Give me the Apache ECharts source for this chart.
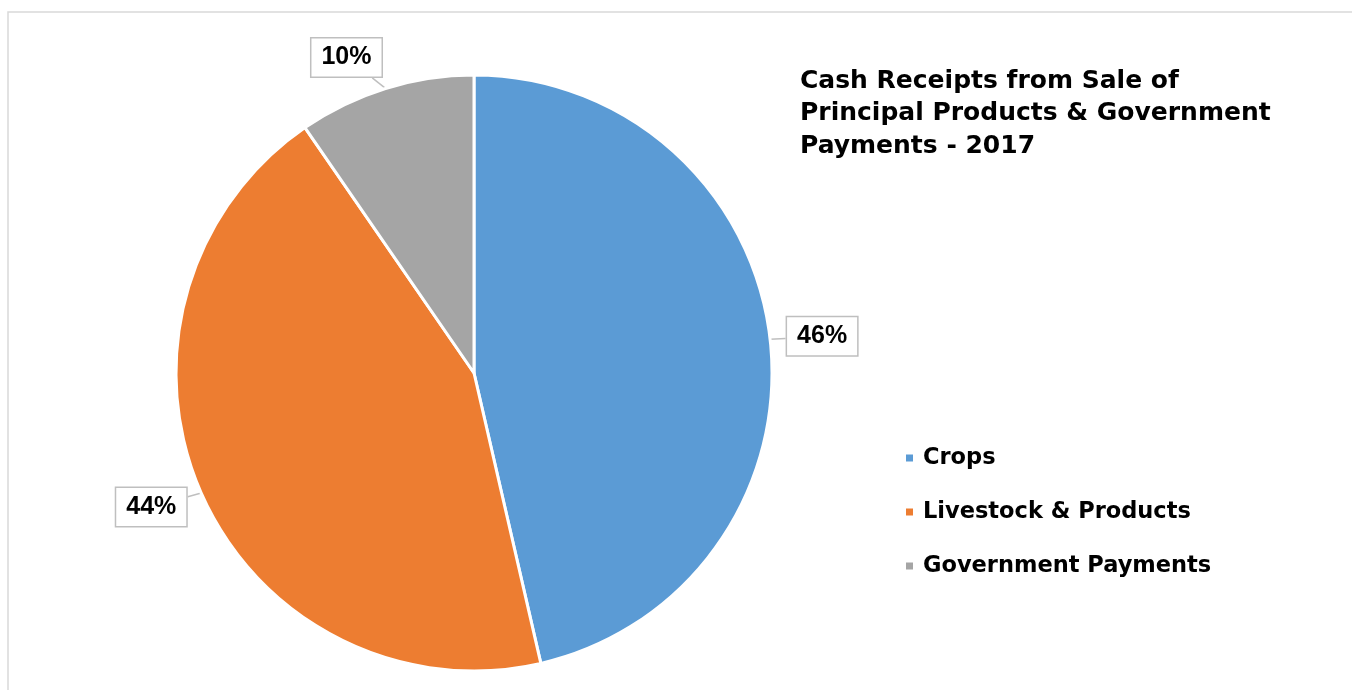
<!DOCTYPE html>
<html>
<head>
<meta charset="utf-8">
<script src="https://cdn.jsdelivr.net/npm/echarts@6/dist/echarts.min.js"></script>
<style>
  html, body { margin: 0; padding: 0; background: #fff; }
  #chart { width: 1352px; height: 690px; }
</style>
</head>
<body>
<div id="chart"></div>
<script>
const titleText = 'Cash Receipts from Sale of\nPrincipal Products & Government\nPayments - 2017';
const categories = ['Crops', 'Livestock & Products', 'Government Payments'];
const values = [46.4, 44.0, 9.6];
const colors = ['#5B9BD5', '#ED7D31', '#A5A5A5'];
// label box offsets from the slice's mid-angle edge point
const labelOffsets = [[52, -3], [-50, 14], [-39, -31]];

const FONT = '"Liberation Sans", Arial, sans-serif';
const WIDE = '"DejaVu Sans", sans-serif';

const chart = echarts.init(document.getElementById('chart'), null, { renderer: 'canvas' });

const option = {
  backgroundColor: '#ffffff',
  animation: false,
  graphic: [{
    type: 'rect',
    shape: { x: 8, y: 12, width: 1400, height: 700 },
    style: { fill: 'none', stroke: '#D9D9D9', lineWidth: 1.5 },
    silent: true
  }],
  title: {
    text: titleText,
    left: 795,
    top: 60,
    textStyle: {
      fontFamily: WIDE,
      fontSize: 25,
      fontWeight: 'bold',
      color: '#000',
      lineHeight: 32.5
    }
  },
  legend: {
    orient: 'vertical',
    left: 899,
    top: 441,
    itemWidth: 9,
    itemHeight: 9,
    itemGap: 30,
    icon: 'rect',
    data: categories,
    textStyle: {
      fontFamily: WIDE,
      fontSize: 22.5,
      fontWeight: 'bold',
      color: '#000',
      lineHeight: 24,
      padding: [0, 0, 0, 4]
    }
  },
  series: [{
    type: 'pie',
    center: [474, 373],
    radius: 298,
    startAngle: 90,
    clockwise: true,
    data: categories.map((c, i) => ({ name: c, value: values[i], itemStyle: { color: colors[i] } })),
    itemStyle: { borderColor: '#fff', borderWidth: 3 },
    label: {
      show: true,
      position: 'outside',
      formatter: p => Math.round(p.percent) + '%',
      fontFamily: FONT,
      fontSize: 25,
      fontWeight: 'bold',
      color: '#000',
      lineHeight: 26,
      backgroundColor: '#fff',
      borderColor: '#BFBFBF',
      borderWidth: 1.5,
      padding: [6, 10]
    },
    labelLine: {
      show: true,
      length: 10,
      length2: 10,
      lineStyle: { color: '#BFBFBF', width: 1.5 }
    },
    labelLayout: function (params) {
      const pts = params.labelLinePoints;
      const off = labelOffsets[params.dataIndex];
      if (!pts) return {};
      const ax = pts[0][0], ay = pts[0][1];
      const cx = ax + off[0], cy = ay + off[1];
      const hw = params.labelRect.width / 2, hh = params.labelRect.height / 2;
      const dx = ax - cx, dy = ay - cy;
      const t = Math.min(dx !== 0 ? hw / Math.abs(dx) : Infinity, dy !== 0 ? hh / Math.abs(dy) : Infinity);
      return {
        x: cx,
        y: cy,
        align: 'center',
        verticalAlign: 'middle',
        labelLinePoints: [[ax, ay], [cx + dx * t, cy + dy * t], [cx + dx * t, cy + dy * t]]
      };
    }
  }]
};

chart.setOption(option);
</script>
</body>
</html>
